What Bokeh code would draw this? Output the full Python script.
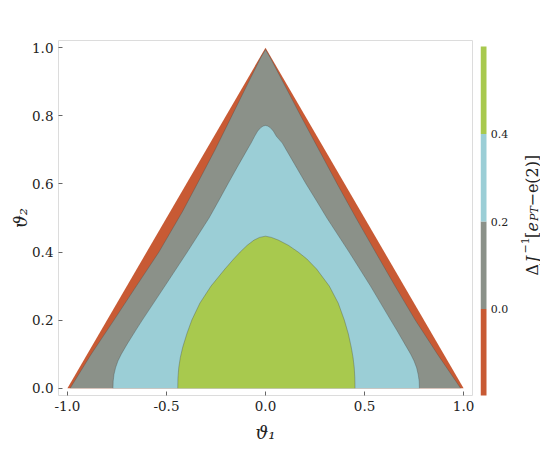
import math
from bokeh.plotting import figure
from bokeh.layouts import row
from bokeh.models import FixedTicker, Label, Range1d
from bokeh.core.properties import value
from bokeh.embed import file_html
from bokeh.resources import INLINE

# ---------------- data ----------------
levels = [-0.2, 0.0, 0.2, 0.4, 0.6]
level_colors = ["#C85A34", "#8B9189", "#9BCED6", "#A8C94E"]

tri_x = [-1.0, 0.0, 1.0]
tri_y = [0.0, 1.0, 0.0]

# contour at 0.0
c00_x = [-0.986, -0.88, -0.765, -0.652, -0.538, -0.418, -0.345, -0.255, -0.17, -0.085, -0.025, 0.0,
         0.025, 0.088, 0.178, 0.27, 0.362, 0.457, 0.555, 0.654, 0.756, 0.868, 0.985]
c00_y = [0.0, 0.1, 0.2, 0.3, 0.4, 0.52, 0.6, 0.7, 0.8, 0.9, 0.97, 0.995,
         0.97, 0.9, 0.8, 0.7, 0.6, 0.5, 0.4, 0.3, 0.2, 0.1, 0.0]

# contour at 0.2
c02_x = [-0.770, -0.769, -0.765, -0.757, -0.745, -0.728, -0.698, -0.655, -0.622, -0.508, -0.395,
         -0.285, -0.237, -0.19, -0.142, -0.093, -0.073, -0.055, -0.04, -0.025, -0.012, 0.0,
         0.012, 0.025, 0.04, 0.055, 0.085, 0.105, 0.155, 0.205, 0.258, 0.31, 0.422, 0.53, 0.632,
         0.663, 0.703, 0.733, 0.750, 0.763, 0.771, 0.776, 0.777]
c02_y = [0.0, 0.02, 0.04, 0.06, 0.08, 0.10, 0.13, 0.17, 0.2, 0.3, 0.4,
         0.5, 0.55, 0.6, 0.65, 0.7, 0.72, 0.74, 0.755, 0.765, 0.77, 0.772,
         0.77, 0.765, 0.755, 0.74, 0.72, 0.7, 0.65, 0.6, 0.55, 0.5, 0.4, 0.3, 0.2,
         0.17, 0.13, 0.10, 0.08, 0.06, 0.04, 0.02, 0.0]

# contour at 0.4
c04_x = [-0.443, -0.442, -0.438, -0.430, -0.418, -0.397, -0.372, -0.331, -0.275, -0.205, -0.16,
         -0.128, -0.092, -0.058, -0.03, 0.0,
         0.03, 0.065, 0.115, 0.165, 0.208, 0.258, 0.322, 0.367, 0.398, 0.418, 0.433, 0.442, 0.448,
         0.451, 0.452]
c04_y = [0.0, 0.03, 0.06, 0.09, 0.12, 0.16, 0.2, 0.25, 0.3, 0.35, 0.38,
         0.4, 0.42, 0.435, 0.443, 0.4466,
         0.443, 0.435, 0.42, 0.4, 0.38, 0.35, 0.3, 0.25, 0.2, 0.16, 0.12, 0.09, 0.06,
         0.03, 0.0]

x_ticks = [-1.0, -0.5, 0.0, 0.5, 1.0]
x_tick_labels = ["-1.0", "-0.5", "0.0", "0.5", "1.0"]
y_ticks = [0.0, 0.2, 0.4, 0.6, 0.8, 1.0]
y_tick_labels = ["0.0", "0.2", "0.4", "0.6", "0.8", "1.0"]
cb_ticks = [0.0, 0.2, 0.4]
cb_tick_labels = ["0.0", "0.2", "0.4"]

FONT = "DejaVu Serif"
EDGE = "#4a4f4c"
TXT = "#222222"

# ---------------- main plot ----------------
p = figure(width=476, height=450,
           x_range=Range1d(-1.045, 1.045), y_range=Range1d(-0.0215, 1.0215),
           output_backend="svg", toolbar_location=None,
           min_border_left=58, min_border_right=4, min_border_top=40, min_border_bottom=55)
p.grid.visible = False
p.outline_line_color = "#dcdcdc"
p.outline_line_width = 1

p.patch(tri_x, tri_y, fill_color=level_colors[0], line_color=None)
p.patch(c00_x, c00_y, fill_color=level_colors[1], line_color=None)
p.patch(c02_x, c02_y, fill_color=level_colors[2], line_color=None)
p.patch(c04_x, c04_y, fill_color=level_colors[3], line_color=None)
for cx, cy in [(c00_x, c00_y), (c02_x, c02_y), (c04_x, c04_y)]:
    p.line(cx, cy, line_color=EDGE, line_alpha=0.45, line_width=0.8)

p.xaxis.ticker = FixedTicker(ticks=x_ticks)
p.xaxis.major_label_overrides = dict(zip(x_ticks, x_tick_labels))
p.yaxis.ticker = FixedTicker(ticks=y_ticks)
p.yaxis.major_label_overrides = dict(zip(y_ticks, y_tick_labels))
for ax in (p.xaxis, p.yaxis):
    ax.axis_line_color = None
    ax.major_tick_in = 4
    ax.major_tick_out = 0
    ax.major_tick_line_color = "#666666"
    ax.minor_tick_line_color = None
    ax.major_label_standoff = 5
    ax.major_label_text_font = FONT
    ax.major_label_text_font_size = "13.5px"
    ax.major_label_text_color = TXT
    ax.axis_label_text_font = FONT
    ax.axis_label_text_font_size = "18px"
    ax.axis_label_text_font_style = "italic"
    ax.axis_label_text_color = TXT
p.xaxis.axis_label = "ϑ₁"
p.xaxis.axis_label_standoff = 8
p.yaxis.axis_label = "ϑ₂"
p.yaxis.axis_label_standoff = -2

# ---------------- colour bar (frame spans bar + labels) ----------------
# frame: x 480..540 px (6 px per unit), y 40..395 px
PPU_Y = 437.5
cb_top = levels[-1] + 6 / PPU_Y
cb_bot = cb_top - 355 / PPU_Y
cb = figure(width=64, height=450,
            x_range=Range1d(0, 10), y_range=Range1d(cb_bot, cb_top),
            output_backend="svg", toolbar_location=None,
            x_axis_location=None, y_axis_location=None,
            min_border_left=4, min_border_right=0, min_border_top=40, min_border_bottom=55)
cb.grid.visible = False
cb.outline_line_color = None
cb.quad(left=0, right=1, bottom=levels[:-1], top=levels[1:], fill_color=level_colors, line_color=None)
cb.text(x=[1.7] * len(cb_ticks), y=cb_ticks, text=cb_tick_labels,
        text_font=value(FONT), text_font_size="11px", text_color=TXT,
        text_align="left", text_baseline="middle")


def px2x(px):
    return (px - 480) / 6.0


def py2y(py):
    return cb_top - (py - 40) / PPU_Y


# title pieces: (text, start py, baseline px, size, style)
title_parts = [
    ("Δ", 275, 531.5, "16px", "normal"),
    ("J", 262, 531.5, "16px", "italic"),
    ("−1", 253, 524.5, "11px", "normal"),
    ("[", 237.5, 531.5, "16px", "normal"),
    ("e", 231, 531, "16px", "italic"),
    ("PT", 220.5, 534, "11px", "italic"),
    ("−e(2)]", 206, 531.5, "16px", "normal"),
]
for txt, py, px, sz, st in title_parts:
    cb.add_layout(Label(x=px2x(px), y=py2y(py), text=txt, angle=math.pi / 2,
                        text_font=FONT, text_font_size=sz, text_font_style=st,
                        text_color=TXT, text_align="left", text_baseline="alphabetic"))

layout = row(p, cb)
open("out.html", "w").write(file_html(layout, INLINE))
